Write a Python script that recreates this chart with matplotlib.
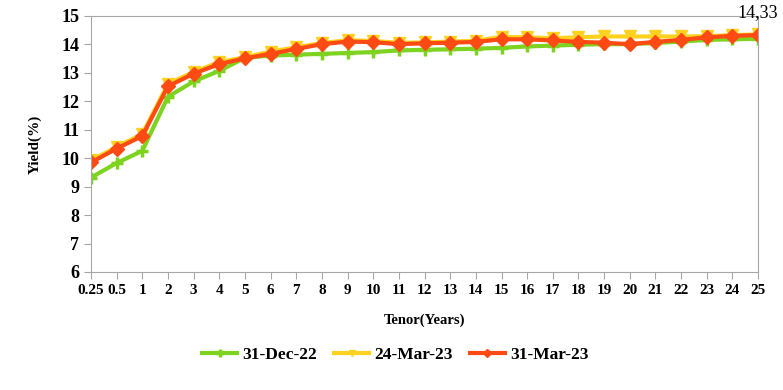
import numpy as np
import matplotlib.pyplot as plt

# data
tenors = ['0.25', '0.5'] + [str(i) for i in range(1, 26)]
dec22 = [9.32, 9.83, 10.26, 12.16, 12.70, 13.07, 13.53, 13.61, 13.64, 13.67, 13.70, 13.73,
         13.79, 13.81, 13.83, 13.85, 13.88, 13.93, 13.96, 13.99, 14.01, 14.01, 14.05, 14.10,
         14.16, 14.18, 14.20]
mar24 = [9.92, 10.40, 10.85, 12.62, 13.03, 13.38, 13.55, 13.75, 13.90, 14.05, 14.15, 14.12,
         14.06, 14.07, 14.10, 14.13, 14.27, 14.25, 14.22, 14.25, 14.28, 14.28, 14.28, 14.28,
         14.29, 14.33, 14.35]
mar31 = [9.85, 10.34, 10.78, 12.53, 12.97, 13.31, 13.51, 13.67, 13.84, 14.01, 14.10, 14.08,
         14.01, 14.04, 14.06, 14.09, 14.18, 14.18, 14.14, 14.09, 14.06, 14.01, 14.09, 14.16,
         14.25, 14.30, 14.33]

plt.rcParams['font.family'] = ['Liberation Serif', 'DejaVu Serif']
plt.rcParams['font.weight'] = 'bold'

fig = plt.figure(figsize=(7.83, 3.90), dpi=100)
ax = fig.add_axes([0.1162, 0.3026, 0.852, 0.6564])

x = np.arange(len(tenors))
ax.plot(x, dec22, color='#7ED321', lw=3, marker='+', ms=9, mew=2.5, label='31-Dec-22')
ax.plot(x, mar24, color='#FFD21F', lw=3, marker='v', ms=8, label='24-Mar-23')
ax.plot(x, mar31, color='#FF4A14', lw=3, marker='D', ms=7, label='31-Mar-23')

ax.annotate(f'{mar31[-1]:.2f}'.replace('.', ','), (x[-1], mar31[-1]), xytext=(0, 10),
            textcoords='offset points', ha='center', va='bottom', fontsize=13,
            fontweight='normal', clip_on=False)

ax.set_xlim(0, len(tenors) - 1)
ax.set_ylim(6, 15)
ax.set_xticks(x)
ax.set_xticklabels(tenors, fontsize=11, fontweight='bold')
ax.set_yticks(range(6, 16))
ax.tick_params(axis='y', labelsize=13, colors='#A6A6A6', labelcolor='black', length=5)
ax.tick_params(axis='x', colors='#A6A6A6', labelcolor='black', length=5)
for s in ax.spines.values():
    s.set_color('#A6A6A6')
ax.set_ylabel('Yield(%)', fontsize=11, fontweight='bold', labelpad=14)
ax.set_xlabel('Tenor(Years)', fontsize=10.5, fontweight='bold', labelpad=12)

fig.legend(loc='center', bbox_to_anchor=(0.505, 0.09), ncol=3, frameon=False,
           fontsize=12.5, handlelength=2.0, columnspacing=1.0, handletextpad=0.3,
           markerscale=0.6)

fig.savefig('out.png', dpi=100)
